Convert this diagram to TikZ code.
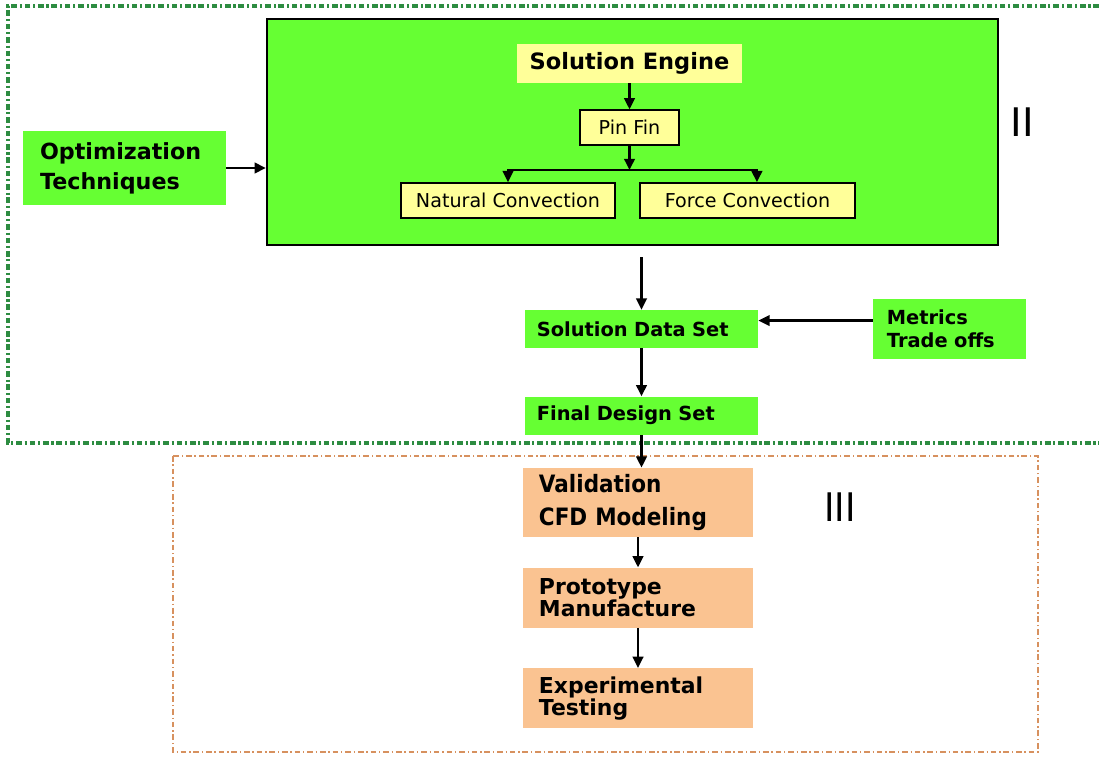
\documentclass[tikz,border=0pt]{standalone}
\usepackage{fontspec}
\setmainfont{DejaVu Sans}
\newfontfamily\narrowfont[FakeStretch=0.9]{DejaVu Sans}
\usetikzlibrary{arrows.meta, positioning}
\definecolor{brightgreen}{RGB}{102,255,51}
\definecolor{paleyellow}{RGB}{255,255,153}
\definecolor{peach}{RGB}{250,195,145}
\definecolor{framegreen}{RGB}{45,140,65}
\definecolor{frameorange}{RGB}{215,145,95}

\begin{document}
\begin{tikzpicture}[x=0.025cm, y=-0.025cm,
        engine/.style={rectangle, draw, line width=1.4pt, fill=brightgreen, minimum width=18.28cm, minimum height=5.65cm},
        title/.style={rectangle, fill=paleyellow, minimum width=5.63cm, minimum height=0.98cm, font=\bfseries\fontsize{16}{19}\selectfont},
        option/.style={rectangle, draw, line width=1.3pt, fill=paleyellow, minimum height=0.87cm, font=\fontsize{13.6}{16}\selectfont},
        greenbox/.style={rectangle, fill=brightgreen, align=left, inner xsep=0.3cm, inner ysep=2pt, font=\bfseries\fontsize{13.8}{16.3}\selectfont},
        orangebox/.style={rectangle, fill=peach, align=left, inner xsep=0.4cm, inner ysep=2pt, text width=4.95cm, minimum height=1.5cm, font=\bfseries\fontsize{15.6}{15.6}\selectfont},
        arrow/.style={-{Triangle[length=8pt, width=7.5pt]}, line width=1.7pt},
        region/.style={font=\fontsize{28}{28}\selectfont}
        ]
        \useasboundingbox (0,0) rectangle (1099,757);

        % Frames
        \draw[framegreen, line width=2.3pt, dash pattern=on 4pt off 2pt on 1.5pt off 2pt] (1099,6) -- (8,6) -- (8,443) -- (1099,443);
        \draw[frameorange, line width=1pt, dash pattern=on 4pt off 2pt on 1pt off 2pt] (173,456) rectangle (1038,752);

        % Nodes
        \node (big) [engine] at (632.5,132) {};
        \node (se) [title] at (629.5,63.5) {Solution Engine};
        \node (pin) [option, minimum width=2.48cm, below=0.65cm of se] {Pin Fin};
        \coordinate [below=0.6cm of pin] (split);
        \node (nat) [option, minimum width=5.35cm] at (508,200.5) {Natural Convection};
        \node (force) [option, minimum width=5.38cm] at (747.5,200.5) {Force Convection};
        \node (opt) [greenbox, text width=4.22cm, minimum height=1.85cm, inner xsep=0.43cm, font=\bfseries\fontsize{15.8}{21.3}\selectfont] at (124.5,168) {Optimization\\Techniques};
        \node (sds) [greenbox, text width=5.23cm, minimum height=0.95cm] at (641.5,329) {Solution Data Set};
        \node (metrics) [greenbox, text width=3.13cm, inner xsep=0.35cm, minimum height=1.5cm] at (949.5,329) {Metrics\\Trade offs};
        \node (final) [greenbox, text width=5.23cm, minimum height=0.95cm, below=1.2cm of sds] {Final Design Set};
        \node (valid) [orangebox, minimum height=1.73cm, font=\narrowfont\bfseries\fontsize{17}{24}\selectfont] at (638,502.5) {Validation\\CFD Modeling};
        \node (proto) [orangebox, below=0.75cm of valid] {Prototype\\Manufacture};
        \node (exper) [orangebox, below=1cm of proto] {Experimental\\Testing};
        \node (secII) [region] at (1022,122) {II};
        \node (secIII) [region, font=\narrowfont\fontsize{28}{28}\selectfont] at (840,507) {III};

        % Arrows
        \draw[arrow] (se) -- (pin);
        \draw[arrow] (pin) -- (split);
        \draw[arrow] (split) -| (nat.north);
        \draw[arrow] (split) -| ([xshift=6.7pt]force.north);
        \draw[arrow] (opt) -- (opt -| big.west);
        \draw[arrow, shorten <=8pt] (big.south -| sds) -- (sds);
        \draw[arrow] ([yshift=6pt]metrics.west) -- ([yshift=6pt]metrics.west -| sds.east);
        \draw[arrow] (sds) -- (final);
        \draw[arrow] (final) -- (final |- valid.north);
        \draw[arrow] (valid) -- (proto);
        \draw[arrow] (proto) -- (exper);

    \end{tikzpicture}
\end{document}
